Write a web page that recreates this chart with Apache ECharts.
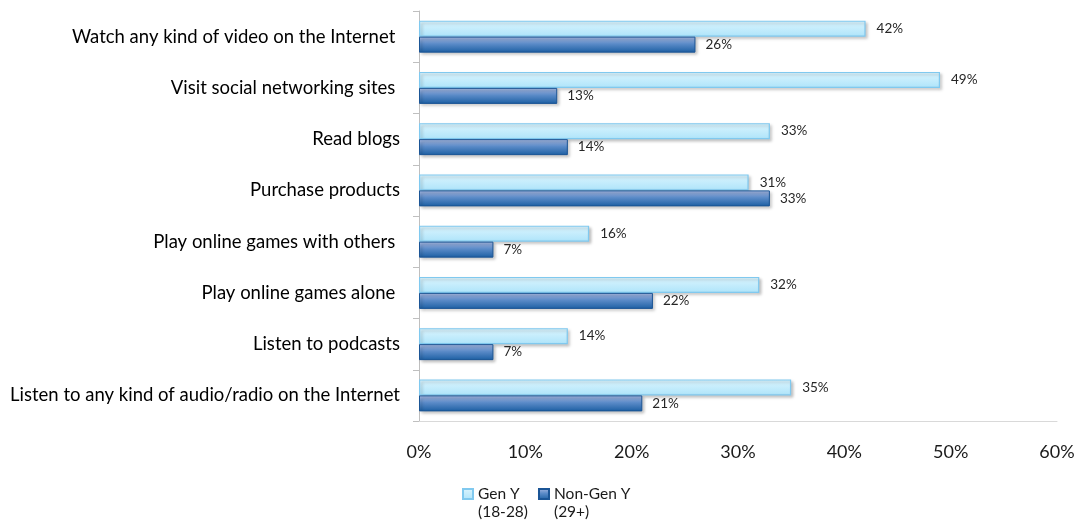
<!DOCTYPE html>
<html>
<head>
<meta charset="utf-8">
<script src="https://cdn.jsdelivr.net/npm/echarts@6/dist/echarts.min.js"></script>
<style>
  html, body { margin: 0; padding: 0; background: #fff; }
  #chart { width: 1083px; height: 527px; }
</style>
</head>
<body>
<div id="chart"></div>
<script>
// categories, top to bottom as shown
const categories = [
    "Watch any kind of video on the Internet ",
    "Visit social networking sites ",
    "Read blogs",
    "Purchase products",
    "Play online games with others ",
    "Play online games alone ",
    "Listen to podcasts",
    "Listen to any kind of audio/radio on the Internet"
];
const genY = [42, 49, 33, 31, 16, 32, 14, 35];
const nonGenY = [26, 13, 14, 33, 7, 22, 7, 21];
const xTicks = [0, 10, 20, 30, 40, 50, 60];

const FONT = "Lato";

const chart = echarts.init(document.getElementById("chart"), null, { renderer: "canvas" });

const shadow = {
    shadowBlur: 3,
    shadowOffsetX: 2,
    shadowOffsetY: 2,
    shadowColor: "rgba(0,0,0,0.25)"
};

chart.setOption({
    animation: false,
    grid: { left: 419, right: 26, top: 11, bottom: 106, containLabel: false },
    xAxis: {
        type: "value",
        min: xTicks[0],
        max: xTicks[xTicks.length - 1],
        interval: 10,
        axisLine: { show: true, lineStyle: { color: "#d9d9d9" } },
        axisTick: { show: false },
        splitLine: { show: false },
        axisLabel: {
            formatter: (v) => v + "%",
            color: "#1a1a1a",
            fontFamily: FONT,
            fontSize: 18,
            margin: 22
        }
    },
    yAxis: {
        type: "category",
        inverse: true,
        data: categories,
        axisLine: { show: true, lineStyle: { color: "#bfbfbf" } },
        axisTick: { show: true, length: 6, lineStyle: { color: "#bfbfbf" } },
        axisLabel: {
            color: "#000",
            fontFamily: FONT,
            fontSize: 18.5,
            margin: 19
        }
    },
    legend: {
        left: 462,
        top: 467,
        padding: 0,
        itemWidth: 10,
        itemHeight: 10,
        itemGap: 10,
        icon: "rect",
        // leading blank line keeps the icon level with the first line of the name
        formatter: (name) => "\n" + name.replace(" (", "\n("),
        textStyle: {
            fontFamily: FONT,
            fontSize: 15.5,
            color: "#1a1a1a",
            lineHeight: 18
        },
        data: ["Gen Y (18-28)", "Non-Gen Y (29+)"]
    },
    series: [
        {
            name: "Gen Y (18-28)",
            type: "bar",
            data: genY,
            barWidth: 16,
            barGap: "0%",
            itemStyle: {
                color: new echarts.graphic.LinearGradient(0, 0, 0, 1, [
                    { offset: 0, color: "#dcf5fe" },
                    { offset: 1, color: "#aee4fa" }
                ]),
                borderColor: "#80c9ef",
                borderWidth: 1.2,
                ...shadow
            },
            label: {
                show: true,
                position: "right",
                distance: 11,
                formatter: "{c}%",
                color: "#262626",
                fontFamily: FONT,
                fontSize: 13.5
            }
        },
        {
            name: "Non-Gen Y (29+)",
            type: "bar",
            data: nonGenY,
            barWidth: 16,
            barGap: "0%",
            itemStyle: {
                color: new echarts.graphic.LinearGradient(0, 0, 0, 1, [
                    { offset: 0, color: "#a9b9e2" },
                    { offset: 0.45, color: "#5b8bc8" },
                    { offset: 1, color: "#1c5fa3" }
                ]),
                borderColor: "#1b5596",
                borderWidth: 1,
                ...shadow
            },
            label: {
                show: true,
                position: "right",
                distance: 10,
                formatter: "{c}%",
                color: "#262626",
                fontFamily: FONT,
                fontSize: 13.5
            }
        }
    ]
});
</script>
</body>
</html>
